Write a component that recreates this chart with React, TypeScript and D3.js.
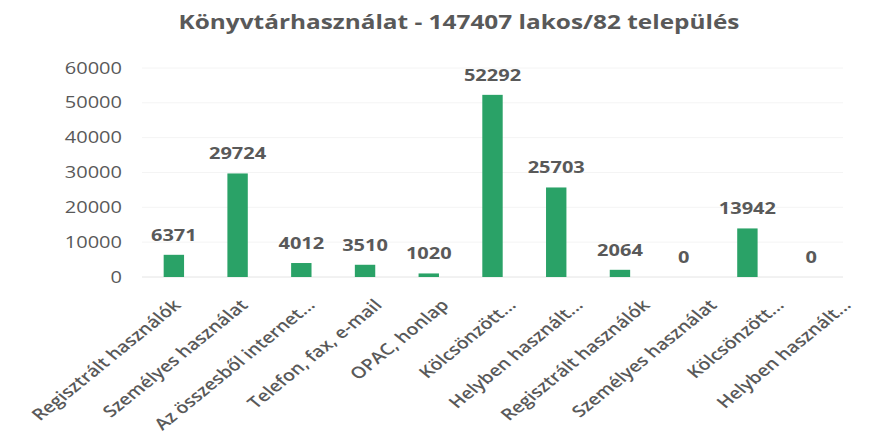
import React from "react";
import * as d3 from "d3";

const title = "Könyvtárhasználat - 147407 lakos/82 település";
const categories = [
  "Regisztrált használók",
  "Személyes használat",
  "Az összesből internet...",
  "Telefon, fax, e-mail",
  "OPAC, honlap",
  "Kölcsönzött...",
  "Helyben használt...",
  "Regisztrált használók ",
  "Személyes használat ",
  "Kölcsönzött... ",
  "Helyben használt... ",
];
const values = [6371, 29724, 4012, 3510, 1020, 52292, 25703, 2064, 0, 13942, 0];
const yTicks = [0, 10000, 20000, 30000, 40000, 50000, 60000];

const W = 884;
const H = 443;
const FONT = "'Open Sans', 'Noto Sans', sans-serif";
const TEXT = "#595959";
const BAR = "#2aa267";
const SX = 1.25;

export default function App() {
  const x = d3.scaleBand<string>().domain(categories).range([142, 843]).paddingInner(0.68).paddingOuter(0.34);
  const xl = d3.scalePoint<string>().domain(categories).range([172, 842]);
  const y = d3.scaleLinear().domain([0, 60000]).range([277, 68]);
  return (
    <svg width={W} height={H} style={{ position: "absolute", left: 0, top: 0, background: "#fff" }}>
      <text transform={`translate(459,29) scale(${SX},1)`} textAnchor="middle" fontFamily={FONT} fontWeight={700} fontSize={19.5} fill={TEXT}>
        {title}
      </text>
      {yTicks.map((t) => (
        <g key={t}>
          <line x1={142} x2={843} y1={y(t)} y2={y(t)} stroke={t === 0 ? "#e4e4e4" : "#f4f4f4"} strokeWidth={1} />
          <text transform={`translate(122,${y(t)}) scale(${SX},1)`} dy="0.35em" textAnchor="end" fontFamily={FONT} fontSize={16} fill={TEXT}>
            {t}
          </text>
        </g>
      ))}
      {categories.map((c, i) => {
        const cx = (x(c) as number) + x.bandwidth() / 2;
        const v = values[i];
        const top = y(v);
        return (
          <g key={c}>
            {v > 0 && (
              <rect x={x(c)} y={top} width={x.bandwidth()} height={Math.max(y(0) - top, 3)} fill={BAR} />
            )}
            <text
              transform={`translate(${cx},${top - 14}) scale(${SX},1)`}
              textAnchor="middle"
              fontFamily={FONT}
              fontWeight={700}
              fontSize={16}
              fill={TEXT}
            >
              {v}
            </text>
            <text
              transform={`translate(${xl(c)},${298}) scale(1.23,1) rotate(-45)`}
              textAnchor="end"
              dy="0.72em"
              fontFamily={FONT}
              fontWeight={600}
              fontSize={16}
              fill={TEXT}
            >
              {c.trim()}
            </text>
          </g>
        );
      })}
    </svg>
  );
}
